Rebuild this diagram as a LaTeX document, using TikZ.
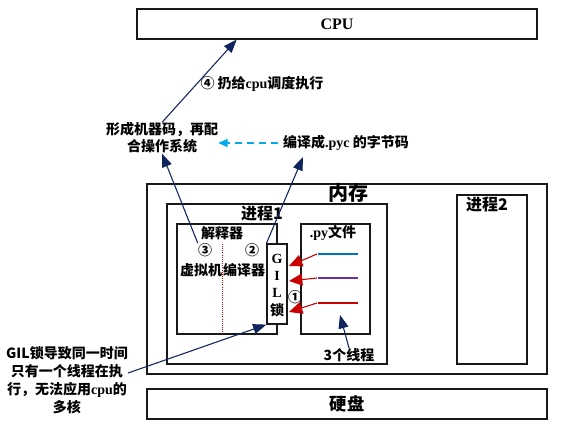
\documentclass[tikz,border=0pt]{standalone}
\usepackage{fontspec}
\setmainfont{Liberation Serif}
\newfontfamily\zh{Noto Sans CJK SC}
\usetikzlibrary{arrows.meta,calc}
\definecolor{line@M}{RGB}{25, 25, 25}
\definecolor{navy@M}{RGB}{16, 36, 94}
\definecolor{red@M}{RGB}{200, 0, 0}
\definecolor{blue@M}{RGB}{0, 112, 192}
\definecolor{purple@M}{RGB}{112, 48, 160}
\definecolor{sky@M}{RGB}{0, 170, 235}

\begin{document}
\begin{tikzpicture}[x=0.75pt, y=-0.75pt, font=\zh\bfseries\fontsize{10.5}{12.75}\selectfont]
  \tikzstyle{box}=[draw=line@M, line width=0.9pt, fill=white, inner sep=0pt]
  \tikzstyle{lbl}=[inner sep=0pt, align=center]
  \tikzstyle{navy_edge} = [draw, -{Triangle[length=10pt,width=7.5pt]}, navy@M, line width=0.8pt]
  \tikzstyle{red_edge} = [draw, -{Triangle[length=10pt,width=9pt]}, red@M, line width=0.8pt]
  \tikzstyle{dash_edge} = [draw, -{Triangle[length=7pt,width=6pt]}, sky@M, dash pattern=on 5pt off 4pt, line width=0.8pt]

  \useasboundingbox (0,0) rectangle (572,424);

  % outer boxes
  \node[box, minimum width=300pt, minimum height=22.5pt, font=\rmfamily\bfseries\fontsize{12}{14}\selectfont] (cpu) at (337,24) {CPU};
  \node[box, minimum width=300pt, minimum height=22.5pt, font=\zh\bfseries\fontsize{13}{15}\selectfont] (disk) at (347,404) {硬盘};

  % memory, processes, interpreter ...
  \foreach \pos/\name/\w/\h in
      {
        {(347,279)/mem/300pt/142.5pt},
        {(277,284)/proc1/165pt/120pt},
        {(492,279.5)/proc2/52.5pt/126.75pt},
        {(227,279)/interp/75pt/82.5pt},
        {(335.5,279)/pyfile/51.75pt/82.5pt},
        {(277,284)/gil/15pt/60pt}%
      }
      \node[box, minimum width=\w, minimum height=\h] (\name) at \pos {}; % drawn in this order

  % labels
  \node[lbl, font=\zh\bfseries\fontsize{15}{18}\selectfont] (memlbl) at (348,193) {内存};
  \node[lbl, font=\zh\bfseries\fontsize{12}{14}\selectfont] (proc1lbl) at (262,214) {进程1};
  \node[lbl, font=\zh\bfseries\fontsize{12}{14}\selectfont] (proc2lbl) at (487,205) {进程2};
  \node[lbl] (interplbl) at (222,233) {解释器};
  \node[lbl] (n3) at (205,250) {③};
  \node[lbl] (n2) at (252,250) {②};
  \node[lbl] (vm) at (201,270) {虚拟机};
  \node[lbl] (comp) at (244,270) {编译器};
  \node[lbl] (pylbl) at (333,233) {{\rmfamily .py}文件};
  \node[lbl] (n1) at (295,297) {①};
  \node[lbl] (threadlbl) at (349,355) {3个线程};
  \node[lbl] (cpunote) at (262,84) {④ 扔给{\rmfamily cpu}调度执行};
  \node[lbl] (mcode) at (162,138) {形成机器码，再配\\合操作系统};
  \node[lbl] (pyc) at (346,143) {编译成{\rmfamily .pyc} 的字节码};
  \node[lbl, font=\zh\bfseries\fontsize{10.5}{13.5}\selectfont] (gilnote) at (67,380) {GIL锁导致同一时间\\只有一个线程在执\\行，无法应用{\rmfamily cpu}的\\多核};

  % G I L lock letters
  \foreach \y/\name/\txt in {259/gilG/G, 276/gilI/I, 293/gilL/L}
    \node[lbl, font=\rmfamily\bfseries\fontsize{10.5}{12}\selectfont] (\name) at (277,\y) {\txt};
  \node[lbl] (gillock) at (277,310) {锁};

  % split between VM and compiler
  \draw[red@M, densely dotted, line width=0.6pt] (interplbl.south) ++(0,4) -- (interplbl.south |- interp.south);

  % three threads
  \foreach \y/\col/\name in {254/blue@M/t1, 278/purple@M/t2, 303/red@M/t3}
    {
      \draw[\col, line width=0.8pt] (318,\y) -- (358,\y);
      \coordinate (\name) at (317,\y);
    }
  \coordinate (g1) at (289,266);
  \coordinate (g2) at (289,281);
  \coordinate (g3) at (289,312);
  \foreach \source/ \dest in {t1/g1, t2/g2, t3/g3}
    \path[red_edge] (\source) -- (\dest);

  % arrow ends
  \coordinate (cpuin) at ($(cpu.south west)!0.25!(cpu.south east)$);
  \coordinate (pycin) at (303,157);
  \coordinate (threadin) at (340,315);

  \path[navy_edge] (mcode.north) -- (cpuin);
  \path[navy_edge] (n3.north west) -- (mcode.south);
  \path[navy_edge] (gil.north west) -- (pycin);
  \path[navy_edge] ($(gilnote.east)+(0,-7)$) -- (gil.south west);
  \path[navy_edge] (threadlbl.north) -- (threadin);
  \path[dash_edge] ($(pyc.west)+(-5,0)$) -- (pyc.west -| mcode.east);

\end{tikzpicture}
\end{document}
